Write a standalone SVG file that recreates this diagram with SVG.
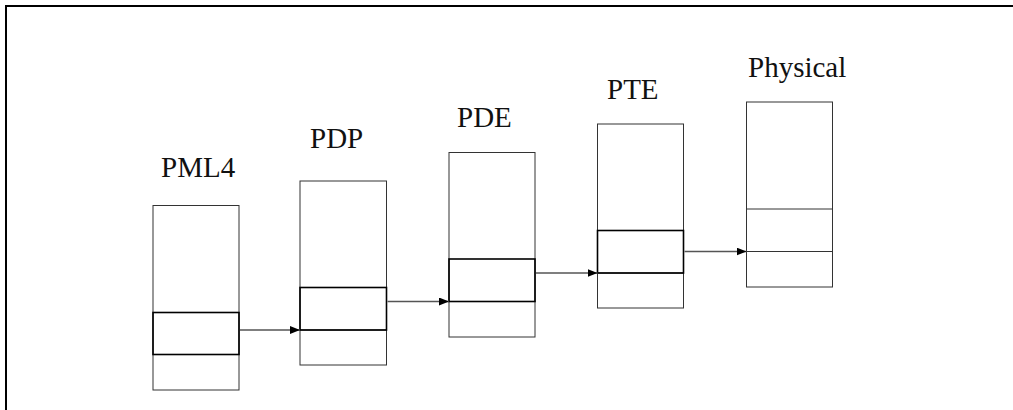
<svg xmlns="http://www.w3.org/2000/svg" width="1013" height="410" viewBox="0 0 1013 410">
<style>
.frame{fill:none;stroke:#000;stroke-width:2}
.box{fill:none;stroke:#333;stroke-width:1}
.sel{fill:none;stroke:#000;stroke-width:1.6}
.lbl{font-family:'Liberation Serif','DejaVu Serif',serif;font-size:29px;fill:#111}
.conn{stroke:#555;stroke-width:1.3;fill:none}
</style>
<defs>
<marker id="ah" markerWidth="10" markerHeight="8" refX="10" refY="4" orient="auto" markerUnits="userSpaceOnUse">
<path d="M0,0 L10,4 L0,8 Z" fill="#000"/>
</marker>
</defs>
<rect width="1013" height="410" fill="#fff"/>
<path class="frame" d="M6,410 V6 H1013"/>
<g id="pml4">
<text class="lbl" font-family="Liberation Serif, serif" x="161" y="177">PML4</text>
<rect class="box" x="153" y="205.5" width="86" height="184.5"/>
<line class="box" x1="153" y1="354.5" x2="239" y2="354.5"/>
<rect class="sel" x="153" y="312.5" width="86" height="42"/>
</g>
<g id="pdp">
<text class="lbl" font-family="Liberation Serif, serif" x="310" y="148">PDP</text>
<rect class="box" x="300" y="181" width="86.5" height="184"/>
<line class="box" x1="300" y1="330" x2="386.5" y2="330"/>
<rect class="sel" x="300" y="287.5" width="86.5" height="42.5"/>
</g>
<g id="pde">
<text class="lbl" font-family="Liberation Serif, serif" x="457" y="127">PDE</text>
<rect class="box" x="449" y="152.5" width="86" height="184.5"/>
<line class="box" x1="449" y1="301.5" x2="535" y2="301.5"/>
<rect class="sel" x="449" y="259" width="86" height="42.5"/>
</g>
<g id="pte">
<text class="lbl" font-family="Liberation Serif, serif" x="607" y="99">PTE</text>
<rect class="box" x="597.5" y="124" width="86" height="184"/>
<line class="box" x1="597.5" y1="273" x2="683.5" y2="273"/>
<rect class="sel" x="597.5" y="230.5" width="86" height="42.5"/>
</g>
<g id="physical">
<text class="lbl" font-family="Liberation Serif, serif" x="748" y="77">Physical</text>
<rect class="box" x="746.5" y="102" width="86" height="185"/>
<line class="box" x1="746.5" y1="209" x2="832.5" y2="209"/>
<line class="box" x1="746.5" y1="251.5" x2="832.5" y2="251.5"/>
</g>
<g id="connectors">
<line class="conn" x1="240" y1="330" x2="300" y2="330" marker-end="url(#ah)"/>
<line class="conn" x1="387.5" y1="301.5" x2="449" y2="301.5" marker-end="url(#ah)"/>
<line class="conn" x1="536" y1="273" x2="597.5" y2="273" marker-end="url(#ah)"/>
<line class="conn" x1="684.5" y1="251.5" x2="746.5" y2="251.5" marker-end="url(#ah)"/>
</g>
</svg>
